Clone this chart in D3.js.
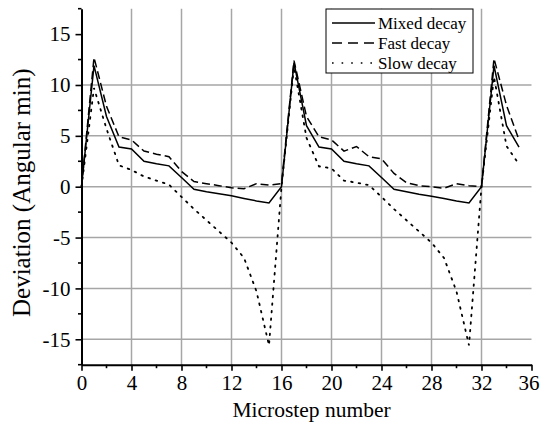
<!DOCTYPE html>
<html>
<head>
<meta charset="utf-8">
<script src="https://cdn.jsdelivr.net/npm/d3@7"></script>
<style>
  html, body { margin: 0; padding: 0; background: #fff; }
  svg, svg text { font-family: "Liberation Serif", "Times New Roman", serif !important; }
</style>
</head>
<body>
<svg id="chart" width="540" height="433"></svg>
<script>
// microstep index 0..35
const steps = d3.range(0, 36);

const mixedDecay = [0, 11.9, 6.9, 3.9, 3.7, 2.5, 2.25, 2.05, 0.9, -0.25, -0.5, -0.7, -0.9, -1.15, -1.4, -1.6,
                    0, 12.2, 6.0, 3.9, 3.7, 2.5, 2.25, 2.05, 0.9, -0.25, -0.5, -0.75, -0.95, -1.15, -1.4, -1.6,
                    0, 11.9, 6.0, 3.9];
const fastDecay  = [0, 12.7, 7.9, 4.9, 4.6, 3.5, 3.2, 2.95, 1.5, 0.5, 0.3, 0.1, -0.1, -0.2, 0.3, 0.15,
                    0.3, 12.4, 6.9, 4.9, 4.6, 3.5, 3.95, 2.95, 2.75, 1.3, 0.4, 0.1, 0, -0.15, 0.3, 0.1,
                    0, 12.6, 8.0, 4.6];
const slowDecay  = [0, 9.7, 5.7, 2.1, 1.65, 1.0, 0.6, 0.2, -1.0, -2.2, -3.3, -4.4, -5.5, -7.0, -10.3, -15.6,
                    0, 11.8, 4.8, 2.0, 1.8, 0.6, 0.4, 0.15, -1.0, -2.2, -3.3, -4.4, -5.5, -7.0, -10.3, -15.6,
                    0, 10.8, 4.0, 2.2];

const series = [
  { name: "Mixed decay", values: mixedDecay, dash: null },
  { name: "Fast decay",  values: fastDecay,  dash: "8,4" },
  { name: "Slow decay",  values: slowDecay,  dash: "1.6,6" }
];

const xTicks = d3.range(0, 37, 4);
const xMinor = d3.range(2, 36, 4);
const yTicks = [-15, -10, -5, 0, 5, 10, 15];
const yMinor = [-17.5, -12.5, -7.5, -2.5, 2.5, 7.5, 12.5, 17.5];

const svg = d3.select("#chart");
const plotL = 81.5, plotR = 531.5, plotT = 8.7, plotB = 364.7;

const x = d3.scaleLinear().domain([0, 36]).range([plotL, plotR]);
const y = d3.scaleLinear().domain([-17.5, 17.5]).range([plotB, plotT]);

// grid
const grid = svg.append("g").attr("stroke", "#a6a6a6").attr("stroke-width", 1.5);
grid.selectAll(".gx").data(xTicks.filter(d => d > 0 && d < 36)).join("line")
  .attr("x1", d => x(d)).attr("x2", d => x(d)).attr("y1", plotT).attr("y2", plotB);
grid.selectAll(".gy").data(yTicks.filter(d => d < 15)).join("line")
  .attr("x1", plotL).attr("x2", plotR).attr("y1", d => y(d)).attr("y2", d => y(d));

// series
const isDot = d => d.dash && d.dash.startsWith("1.6");
const line = d3.line().x((d, i) => x(steps[i])).y(d => y(d));
svg.append("g").selectAll("path").data(series).join("path")
  .attr("d", d => line(d.values))
  .attr("fill", "none")
  .attr("stroke", "#000")
  .attr("stroke-width", d => isDot(d) ? 1.8 : 1.5)
  .attr("stroke-dasharray", d => d.dash)
  .attr("stroke-linecap", d => isDot(d) ? "round" : "butt");

// axes (plain hyphen for negatives, like the original)
const fmt = d => String(d);
const xAxis = svg.append("g").attr("transform", `translate(0,${plotB})`)
  .call(d3.axisBottom(x).tickValues(xTicks).tickFormat(fmt).tickSize(6).tickSizeOuter(0).tickPadding(4));
xAxis.append("g").selectAll("line").data(xMinor).join("line")
  .attr("x1", d => x(d)).attr("x2", d => x(d)).attr("y1", 0).attr("y2", 3.5);
// keep the last label inside the frame
xAxis.selectAll(".tick text").filter(d => d === 36).attr("dx", -3);

const yAxis = svg.append("g").attr("transform", `translate(${plotL},0)`)
  .call(d3.axisLeft(y).tickValues(yTicks).tickFormat(fmt).tickSize(6).tickSizeOuter(0).tickPadding(5));
yAxis.append("g").selectAll("line").data(yMinor).join("line")
  .attr("y1", d => y(d)).attr("y2", d => y(d)).attr("x1", 0).attr("x2", -3.5);

[xAxis, yAxis].forEach(a => {
  a.attr("font-family", null).attr("font-size", null);
  a.select(".domain").attr("stroke", "#000").attr("stroke-width", 2);
  a.selectAll("line").attr("stroke", "#000").attr("stroke-width", 1.6);
  a.selectAll("text").attr("fill", "#000").style("font-size", "21px");
});

// axis titles
svg.append("text")
  .attr("x", (plotL + plotR) / 2 + 5).attr("y", 417)
  .attr("text-anchor", "middle").style("font-size", "21.5px")
  .text("Microstep number");

svg.append("text")
  .attr("transform", `translate(30,${y(0) + 6}) rotate(-90)`)
  .attr("text-anchor", "middle").style("font-size", "25px")
  .text("Deviation (Angular min)");

// legend
const lg = svg.append("g");
lg.append("rect")
  .attr("x", 326).attr("y", 9).attr("width", 147).attr("height", 64)
  .attr("fill", "#fff").attr("stroke", "#000").attr("stroke-width", 1);
const rows = lg.selectAll(".row").data(series).join("g")
  .attr("transform", (d, i) => `translate(0,${23 + i * 20})`);
rows.append("line")
  .attr("x1", 332).attr("x2", 375).attr("y1", 0).attr("y2", 0)
  .attr("stroke", "#000").attr("stroke-width", 1.5)
  .attr("stroke-dasharray", (d, i) => i === 1 ? "10,6" : i === 2 ? "1.6,8" : null);
rows.append("text")
  .attr("x", 378).attr("y", 6).style("font-size", "17px")
  .text(d => d.name);
</script>
</body>
</html>
